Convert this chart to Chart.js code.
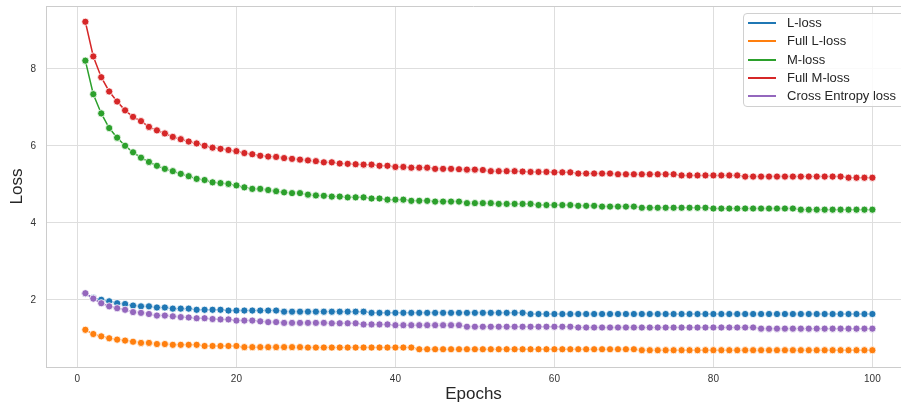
<!DOCTYPE html>
<html>
<head>
<meta charset="utf-8">
<script src="https://cdn.jsdelivr.net/npm/chart.js@4.4.1/dist/chart.umd.min.js"></script>
<style>
    body { margin: 0; background: #fff; }
    #wrap { position: relative; width: 901px; height: 404px; overflow: hidden; }
    .legend {
        position: absolute; left: 743px; top: 13px; width: 180px; height: 92px;
        border: 1px solid #d0d0d0; border-radius: 4px; background: rgba(255,255,255,0.85);
        font-family: 'Liberation Sans', Arial, sans-serif; font-size: 13px; color: #262626;
    }
    .legend .row { position: relative; height: 18.3px; line-height: 18.3px; padding-left: 43px; white-space: nowrap; }
    .legend .row span { position: absolute; left: 4px; top: 8px; width: 28px; height: 2px; }
</style>
</head>
<body>
<div id="wrap">
    <canvas id="lossChart"></canvas>
    <div class="legend" id="legend"></div>
</div>
<script>
// Data
const epochs = [
    1, 2, 3, 4, 5, 6, 7, 8, 9, 10, 11, 12, 13, 14, 15, 16, 17, 18, 19, 20,
    21, 22, 23, 24, 25, 26, 27, 28, 29, 30, 31, 32, 33, 34, 35, 36, 37, 38, 39, 40,
    41, 42, 43, 44, 45, 46, 47, 48, 49, 50, 51, 52, 53, 54, 55, 56, 57, 58, 59, 60,
    61, 62, 63, 64, 65, 66, 67, 68, 69, 70, 71, 72, 73, 74, 75, 76, 77, 78, 79, 80,
    81, 82, 83, 84, 85, 86, 87, 88, 89, 90, 91, 92, 93, 94, 95, 96, 97, 98, 99, 100
];

const lLoss = [
    2.16, 2.05, 2.00, 1.96, 1.91, 1.89, 1.85, 1.83, 1.83, 1.80,
    1.80, 1.77, 1.77, 1.77, 1.74, 1.74, 1.74, 1.74, 1.72, 1.72,
    1.72, 1.72, 1.72, 1.72, 1.72, 1.69, 1.69, 1.69, 1.69, 1.69,
    1.69, 1.69, 1.69, 1.69, 1.69, 1.69, 1.66, 1.66, 1.66, 1.66,
    1.66, 1.66, 1.66, 1.66, 1.66, 1.66, 1.66, 1.66, 1.66, 1.66,
    1.66, 1.66, 1.66, 1.66, 1.66, 1.66, 1.63, 1.63, 1.63, 1.63,
    1.63, 1.63, 1.63, 1.63, 1.63, 1.63, 1.63, 1.63, 1.63, 1.63,
    1.63, 1.63, 1.63, 1.63, 1.63, 1.63, 1.63, 1.63, 1.63, 1.63,
    1.63, 1.63, 1.63, 1.63, 1.63, 1.63, 1.63, 1.63, 1.63, 1.63,
    1.63, 1.63, 1.63, 1.63, 1.63, 1.63, 1.63, 1.63, 1.63, 1.63
];

const fullLLoss = [
    1.22, 1.11, 1.05, 1.00, 0.965, 0.94, 0.91, 0.88, 0.88, 0.85,
    0.85, 0.83, 0.83, 0.83, 0.83, 0.80, 0.80, 0.80, 0.80, 0.80,
    0.77, 0.77, 0.77, 0.77, 0.77, 0.77, 0.77, 0.77, 0.76, 0.76,
    0.76, 0.76, 0.76, 0.76, 0.76, 0.76, 0.76, 0.76, 0.76, 0.76,
    0.76, 0.76, 0.715, 0.715, 0.715, 0.715, 0.715, 0.715, 0.715, 0.715,
    0.715, 0.715, 0.715, 0.715, 0.715, 0.715, 0.715, 0.715, 0.715, 0.715,
    0.715, 0.715, 0.715, 0.715, 0.715, 0.715, 0.715, 0.715, 0.715, 0.715,
    0.69, 0.69, 0.69, 0.69, 0.69, 0.69, 0.69, 0.69, 0.69, 0.69,
    0.69, 0.69, 0.69, 0.69, 0.69, 0.69, 0.69, 0.69, 0.69, 0.69,
    0.69, 0.69, 0.69, 0.69, 0.69, 0.69, 0.69, 0.69, 0.69, 0.69
];

const mLoss = [
    8.21, 7.34, 6.84, 6.46, 6.21, 6.00, 5.83, 5.69, 5.58, 5.48,
    5.40, 5.34, 5.27, 5.21, 5.14, 5.11, 5.05, 5.03, 5.01, 4.97,
    4.92, 4.88, 4.88, 4.85, 4.82, 4.79, 4.77, 4.77, 4.73, 4.71,
    4.70, 4.68, 4.68, 4.66, 4.66, 4.66, 4.63, 4.63, 4.60, 4.60,
    4.60, 4.57, 4.57, 4.57, 4.55, 4.55, 4.55, 4.55, 4.51, 4.51,
    4.51, 4.51, 4.49, 4.49, 4.49, 4.49, 4.49, 4.46, 4.46, 4.46,
    4.46, 4.46, 4.44, 4.44, 4.44, 4.42, 4.42, 4.42, 4.42, 4.42,
    4.39, 4.39, 4.39, 4.39, 4.39, 4.39, 4.39, 4.39, 4.39, 4.37,
    4.37, 4.37, 4.37, 4.37, 4.37, 4.37, 4.37, 4.37, 4.37, 4.37,
    4.34, 4.34, 4.34, 4.34, 4.34, 4.34, 4.34, 4.34, 4.34, 4.34
];

const fullMLoss = [
    9.22, 8.32, 7.78, 7.41, 7.15, 6.92, 6.75, 6.64, 6.49, 6.40,
    6.32, 6.23, 6.17, 6.11, 6.06, 6.00, 5.95, 5.92, 5.89, 5.86,
    5.81, 5.78, 5.74, 5.72, 5.71, 5.68, 5.66, 5.64, 5.62, 5.60,
    5.57, 5.57, 5.54, 5.53, 5.52, 5.51, 5.51, 5.48, 5.48, 5.45,
    5.45, 5.43, 5.43, 5.43, 5.40, 5.40, 5.40, 5.39, 5.38, 5.38,
    5.37, 5.34, 5.34, 5.34, 5.34, 5.33, 5.32, 5.32, 5.32, 5.31,
    5.31, 5.31, 5.28, 5.28, 5.28, 5.28, 5.28, 5.26, 5.26, 5.26,
    5.26, 5.26, 5.26, 5.26, 5.26, 5.23, 5.23, 5.23, 5.23, 5.23,
    5.23, 5.23, 5.23, 5.20, 5.20, 5.20, 5.20, 5.20, 5.20, 5.20,
    5.20, 5.20, 5.20, 5.20, 5.20, 5.20, 5.17, 5.17, 5.17, 5.17
];

const ceLoss = [
    2.17, 2.03, 1.91, 1.83, 1.78, 1.74, 1.68, 1.66, 1.63, 1.59,
    1.59, 1.57, 1.55, 1.54, 1.52, 1.52, 1.50, 1.49, 1.49, 1.46,
    1.46, 1.46, 1.44, 1.42, 1.42, 1.40, 1.40, 1.40, 1.40, 1.40,
    1.40, 1.39, 1.39, 1.39, 1.39, 1.36, 1.36, 1.36, 1.36, 1.34,
    1.34, 1.34, 1.34, 1.34, 1.34, 1.34, 1.34, 1.34, 1.30, 1.30,
    1.30, 1.30, 1.30, 1.30, 1.30, 1.30, 1.30, 1.30, 1.30, 1.30,
    1.30, 1.30, 1.28, 1.28, 1.28, 1.28, 1.28, 1.28, 1.28, 1.28,
    1.28, 1.28, 1.28, 1.28, 1.28, 1.28, 1.28, 1.28, 1.28, 1.28,
    1.28, 1.28, 1.28, 1.28, 1.28, 1.25, 1.25, 1.25, 1.25, 1.25,
    1.25, 1.25, 1.25, 1.25, 1.25, 1.25, 1.25, 1.25, 1.25, 1.25
];

const seriesNames = ['L-loss', 'Full L-loss', 'M-loss', 'Full M-loss', 'Cross Entropy loss'];
const seriesColors = ['#1f77b4', '#ff7f0e', '#2ca02c', '#d62728', '#9467bd'];
const xTicks = [0, 20, 40, 60, 80, 100];
const yTicks = [2, 4, 6, 8];

const FONT = "'Liberation Sans', Arial, sans-serif";
const GRID = '#dedede';
const SPINE = '#cccccc';

const allSeries = [lLoss, fullLLoss, mLoss, fullMLoss, ceLoss];

const datasets = allSeries.map((values, i) => ({
    label: seriesNames[i],
    data: epochs.map((e, j) => ({ x: e, y: values[j] })),
    borderColor: seriesColors[i],
    backgroundColor: seriesColors[i],
    borderWidth: 1.5,
    pointRadius: 3.6,
    pointBorderColor: '#ffffff',
    pointBorderWidth: 0.8,
    pointBackgroundColor: seriesColors[i],
    tension: 0,
    order: allSeries.length - i // later series drawn on top, like matplotlib
}));

// no extra room for edge tick labels: the axes box fills the figure like matplotlib
function noScalePadding(axis) {
    axis.paddingTop = 0;
    axis.paddingBottom = 0;
    axis.paddingLeft = 0;
    axis.paddingRight = 0;
}

// top spine of the axes box
const topSpine = {
    id: 'topSpine',
    afterDraw(chart) {
        const { ctx, chartArea } = chart;
        ctx.save();
        ctx.strokeStyle = SPINE;
        ctx.lineWidth = 1;
        ctx.beginPath();
        ctx.moveTo(chartArea.left, chartArea.top + 0.5);
        ctx.lineTo(chartArea.right, chartArea.top + 0.5);
        ctx.stroke();
        ctx.restore();
    }
};

const ctx = document.getElementById('lossChart').getContext('2d');
new Chart(ctx, {
    type: 'line',
    data: { datasets: datasets },
    options: {
        responsive: true,
        maintainAspectRatio: false,
        animation: false,
        layout: { autoPadding: false, padding: { top: 6, left: 0, right: 0, bottom: 0 } },
        plugins: {
            legend: { display: false },
            tooltip: { enabled: false }
        },
        scales: {
            x: {
                type: 'linear',
                min: -3.95,
                max: 103.6,
                afterBuildTicks: axis => { axis.ticks = xTicks.map(v => ({ value: v })); },
                afterFit: axis => { axis.height = 37; noScalePadding(axis); },
                grid: { color: GRID, drawTicks: false },
                border: { color: SPINE },
                ticks: { font: { family: FONT, size: 10 }, color: '#333', padding: 6, maxRotation: 0 },
                title: {
                    display: true,
                    text: 'Epochs',
                    font: { family: FONT, size: 17, lineHeight: 1.1 },
                    color: '#262626',
                    padding: { top: 0, bottom: 0 }
                }
            },
            y: {
                min: 0.254,
                max: 9.63,
                afterBuildTicks: axis => { axis.ticks = yTicks.map(v => ({ value: v })); },
                afterFit: axis => { axis.width = 46; noScalePadding(axis); },
                grid: { color: GRID, drawTicks: false },
                border: { color: SPINE },
                ticks: { font: { family: FONT, size: 10 }, color: '#333', padding: 10 },
                title: {
                    display: true,
                    text: 'Loss',
                    font: { family: FONT, size: 17, lineHeight: 1.2 },
                    color: '#262626',
                    padding: { top: 7, bottom: 0 }
                }
            }
        }
    },
    plugins: [topSpine]
});

// Legend box in the upper right corner, as in the reference
const legendBox = document.getElementById('legend');
seriesNames.forEach((name, i) => {
    const row = document.createElement('div');
    row.className = 'row';
    const swatch = document.createElement('span');
    swatch.style.background = seriesColors[i];
    row.appendChild(swatch);
    row.appendChild(document.createTextNode(name));
    legendBox.appendChild(row);
});
</script>
</body>
</html>
